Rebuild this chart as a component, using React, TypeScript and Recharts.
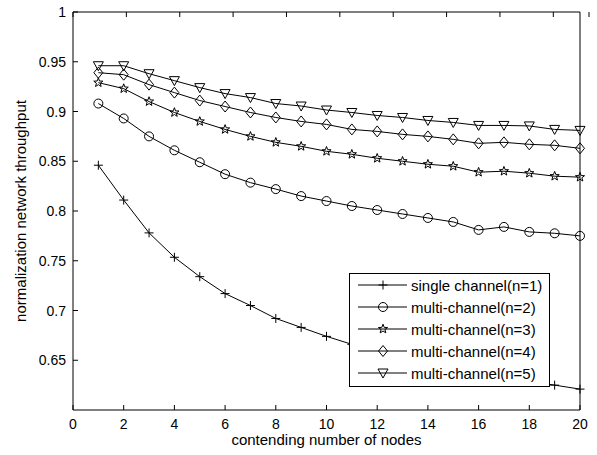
import React from 'react';
import { LineChart, Line, XAxis, YAxis, Legend } from 'recharts';

// contending number of nodes
const nodes = [1, 2, 3, 4, 5, 6, 7, 8, 9, 10, 11, 12, 13, 14, 15, 16, 17, 18, 19, 20];

// normalized throughput
const single1 = [0.846, 0.811, 0.778, 0.7535, 0.734, 0.717, 0.705, 0.692, 0.683, 0.674, 0.666, 0.659, 0.653, 0.647, 0.642, 0.637, 0.633, 0.629, 0.625, 0.621];
const multi2 = [0.908, 0.893, 0.875, 0.861, 0.849, 0.837, 0.8285, 0.822, 0.815, 0.81, 0.805, 0.801, 0.797, 0.793, 0.789, 0.781, 0.784, 0.779, 0.7776, 0.775];
const multi3 = [0.929, 0.923, 0.91, 0.899, 0.89, 0.882, 0.875, 0.869, 0.865, 0.86, 0.857, 0.853, 0.85, 0.847, 0.845, 0.839, 0.84, 0.838, 0.835, 0.834];
const multi4 = [0.939, 0.937, 0.927, 0.919, 0.911, 0.905, 0.899, 0.894, 0.89, 0.887, 0.882, 0.88, 0.877, 0.875, 0.872, 0.868, 0.869, 0.867, 0.866, 0.863];
const multi5 = [0.946, 0.946, 0.938, 0.931, 0.924, 0.918, 0.914, 0.908, 0.9055, 0.9015, 0.899, 0.896, 0.894, 0.891, 0.889, 0.886, 0.886, 0.8855, 0.882, 0.881];

const xTicks = [0, 2, 4, 6, 8, 10, 12, 14, 16, 18, 20];
const yTicks = [0.65, 0.7, 0.75, 0.8, 0.85, 0.9, 0.95, 1];

const seriesNames = [
  'single channel(n=1)',
  'multi-channel(n=2)',
  'multi-channel(n=3)',
  'multi-channel(n=4)',
  'multi-channel(n=5)',
];
const seriesKeys = ['s1', 's2', 's3', 's4', 's5'];
const seriesValues = [single1, multi2, multi3, multi4, multi5];
const markerKinds = ['plus', 'circle', 'star', 'diamond', 'tri'];

const data = nodes.map((x, i) => {
  const row: any = { x };
  seriesKeys.forEach((k, j) => (row[k] = seriesValues[j][i]));
  return row;
});

const FONT = '"Liberation Sans", Arial, Helvetica, sans-serif';

function starPath(cx: number, cy: number, ro: number, ri: number) {
  let d = '';
  for (let i = 0; i < 10; i++) {
    const r = i % 2 === 0 ? ro : ri;
    const a = -Math.PI / 2 + (i * Math.PI) / 5;
    d += (i === 0 ? 'M' : 'L') + (cx + r * Math.cos(a)).toFixed(2) + ' ' + (cy + r * Math.sin(a)).toFixed(2);
  }
  return d + 'Z';
}

function Marker({ kind, cx, cy }: { kind: string; cx: number; cy: number }) {
  const st = { stroke: '#000', strokeWidth: 1, fill: 'none' };
  if (kind === 'plus')
    return <path d={`M${cx - 4.5} ${cy}H${cx + 4.5}M${cx} ${cy - 4.5}V${cy + 4.5}`} {...st} />;
  if (kind === 'circle') return <circle cx={cx} cy={cy} r={4.5} {...st} />;
  if (kind === 'star') return <path d={starPath(cx, cy, 4.8, 2)} {...st} />;
  if (kind === 'diamond')
    return <path d={`M${cx} ${cy - 5.5}L${cx + 4.5} ${cy}L${cx} ${cy + 5.5}L${cx - 4.5} ${cy}Z`} {...st} />;
  return <path d={`M${cx - 5} ${cy - 4}L${cx + 5} ${cy - 4}L${cx} ${cy + 5}Z`} {...st} />;
}

const fmtY = (v: number) => String(Number(v.toFixed(2)));

const BottomTick = (p: any) => (
  <g>
    <line x1={p.x} x2={p.x} y1={p.y} y2={p.y - 5} stroke="#000" />
    <text x={p.x} y={p.y + 19} textAnchor="middle" fontSize={14} fontFamily={FONT} fill="#000">
      {p.payload.value}
    </text>
  </g>
);
const TopTick = (p: any) => <line x1={p.x} x2={p.x} y1={p.y} y2={p.y + 5} stroke="#000" />;
const LeftTick = (p: any) => (
  <g>
    <line x1={p.x} x2={p.x + 5} y1={p.y} y2={p.y} stroke="#000" />
    <text x={p.x - 7} y={p.y + 5} textAnchor="end" fontSize={14} fontFamily={FONT} fill="#000">
      {fmtY(p.payload.value)}
    </text>
  </g>
);
const RightTick = (p: any) => <line x1={p.x} x2={p.x - 5} y1={p.y} y2={p.y} stroke="#000" />;

const LegendBox = () => (
  <div
    style={{
      border: '1px solid #000',
      background: '#fff',
      width: 199,
      height: 112,
      boxSizing: 'content-box',
      fontFamily: FONT,
      fontSize: 15,
      color: '#000',
    }}
  >
    {seriesNames.map((name, i) => (
      <div key={name} style={{ display: 'flex', alignItems: 'center', height: 22 }}>
        <svg width={61} height={22} style={{ display: 'block' }}>
          <line x1={8} x2={57} y1={11} y2={11} stroke="#000" />
          <Marker kind={markerKinds[i]} cx={33} cy={11} />
        </svg>
        <span style={{ whiteSpace: 'nowrap' }}>{name}</span>
      </div>
    ))}
  </div>
);

export default function App() {
  return (
    <div style={{ position: 'absolute', left: 0, top: 0, width: 597, height: 455, background: '#fff' }}>
      <LineChart width={597} height={455} data={data} margin={{ top: 11, right: 16, bottom: 44, left: 72 }}>
        <XAxis
          dataKey="x"
          type="number"
          domain={[0, 20]}
          ticks={xTicks}
          height={1}
          tickSize={0}
          tickMargin={0}
          tickLine={false}
          tick={BottomTick}
          axisLine={{ stroke: '#000' }}
          label={{
            content: (lp: any) => (
              <text
                x={lp.viewBox.x + lp.viewBox.width / 2}
                y={lp.viewBox.y + 35}
                textAnchor="middle"
                fontSize={15}
                fontFamily={FONT}
                fill="#000"
              >
                contending number of nodes
              </text>
            ),
          }}
        />
        <XAxis
          xAxisId="top"
          orientation="top"
          type="number"
          domain={[0, 20]}
          ticks={xTicks}
          height={1}
          tickSize={0}
          tickMargin={0}
          tickLine={false}
          tick={TopTick}
          axisLine={{ stroke: '#000' }}
        />
        <YAxis
          type="number"
          domain={[0.6, 1]}
          ticks={yTicks}
          width={1}
          tickSize={0}
          tickMargin={0}
          tickLine={false}
          tick={LeftTick}
          axisLine={{ stroke: '#000' }}
          allowDataOverflow
          label={{
            content: (lp: any) => {
              const cx = lp.viewBox.x - 52;
              const cy = lp.viewBox.y + lp.viewBox.height / 2;
              return (
                <text
                  x={cx}
                  y={cy}
                  transform={`rotate(-90 ${cx} ${cy})`}
                  textAnchor="middle"
                  dominantBaseline="central"
                  fontSize={15}
                  fontFamily={FONT}
                  fill="#000"
                >
                  normalization network throughput
                </text>
              );
            },
          }}
        />
        <YAxis
          yAxisId="right"
          orientation="right"
          type="number"
          domain={[0.6, 1]}
          ticks={yTicks}
          width={1}
          tickSize={0}
          tickMargin={0}
          tickLine={false}
          tick={RightTick}
          axisLine={{ stroke: '#000' }}
        />
        {seriesKeys.map((k, i) => (
          <Line
            key={k}
            dataKey={k}
            name={seriesNames[i]}
            type="linear"
            stroke="#000"
            strokeWidth={1}
            isAnimationActive={false}
            activeDot={false}
            dot={(dp: any) => <Marker key={`${k}-${dp.index}`} kind={markerKinds[i]} cx={dp.cx} cy={dp.cy} />}
          />
        ))}
        <Legend
          layout="vertical"
          align="center"
          verticalAlign="middle"
          content={() => <LegendBox />}
          wrapperStyle={{ left: 349, top: 273, width: 201, height: 114 }}
        />
      </LineChart>
    </div>
  );
}
